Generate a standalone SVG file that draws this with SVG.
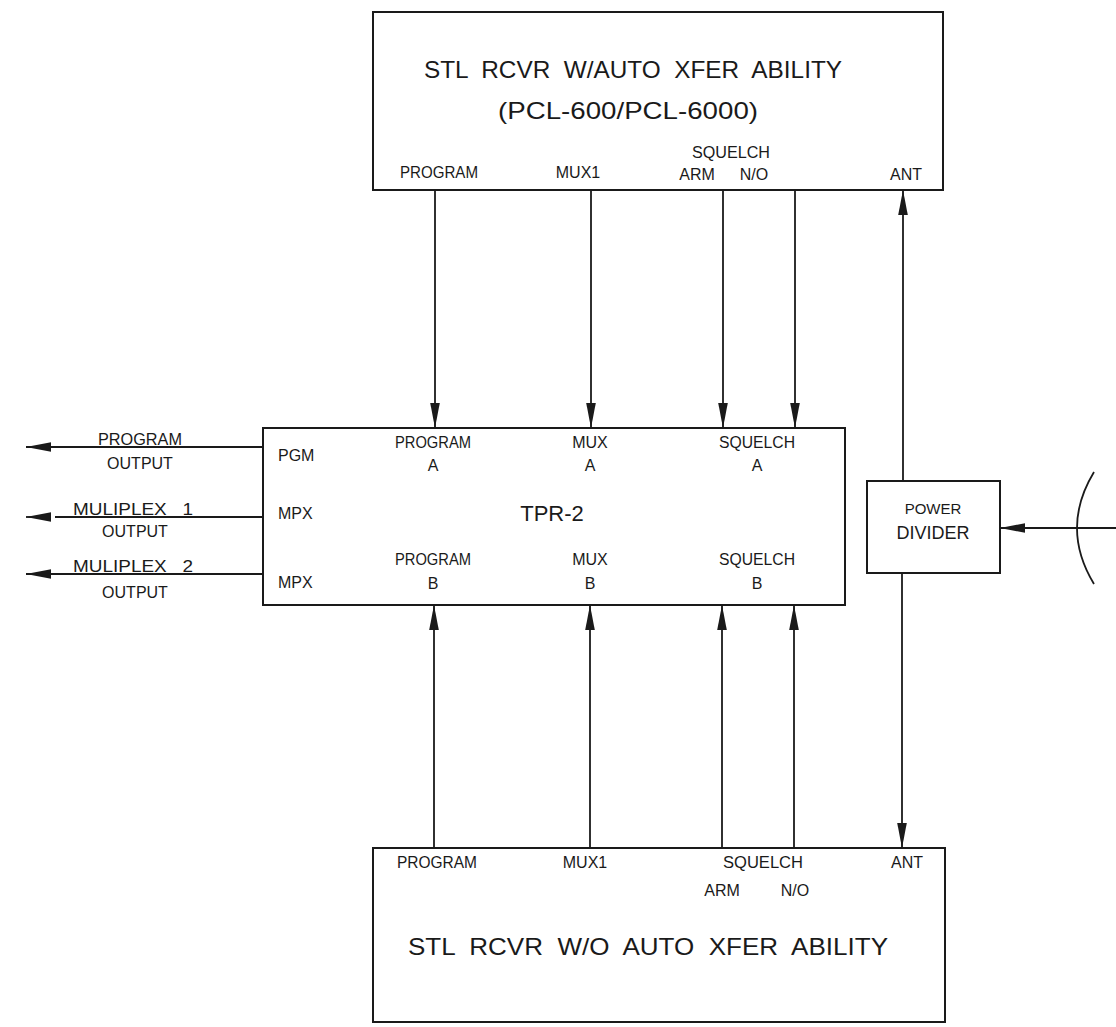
<svg xmlns="http://www.w3.org/2000/svg" width="1116" height="1027" viewBox="0 0 1116 1027">
<style>
.box{fill:none;stroke:#1a1a1a;stroke-width:2}
.ln{fill:none;stroke:#1a1a1a;stroke-width:1.8}
text{font-family:"Liberation Sans","DejaVu Sans",sans-serif;fill:#1a1a1a}
.lb{font-size:16px;text-anchor:middle}
.ll{font-size:16px}
.tt{font-size:24px;text-anchor:middle}
.pre{white-space:pre}
</style>
<defs>
<marker id="ah" markerUnits="userSpaceOnUse" markerWidth="26" markerHeight="12" viewBox="0 0 26 12" refX="25" refY="6" orient="auto">
<path d="M0,1.2 L25,6 L0,10.8 z" fill="#1a1a1a"/>
</marker>
</defs>
<rect width="1116" height="1027" fill="#ffffff"/>
<g id="top-rcvr">
<rect class="box" x="373" y="12" width="570" height="178"/>
<text class="tt pre" xml:space="preserve" x="633" y="78" textLength="418" lengthAdjust="spacingAndGlyphs">STL  RCVR  W/AUTO  XFER  ABILITY</text>
<text class="tt" x="628" y="119" textLength="260" lengthAdjust="spacingAndGlyphs">(PCL-600/PCL-6000)</text>
<text class="lb" x="439" y="178" textLength="78" lengthAdjust="spacingAndGlyphs">PROGRAM</text>
<text class="lb" x="578" y="178">MUX1</text>
<text class="lb" x="731" y="158" textLength="78" lengthAdjust="spacingAndGlyphs">SQUELCH</text>
<text class="lb" x="697" y="180">ARM</text>
<text class="lb" x="754" y="180">N/O</text>
<text class="lb" x="906" y="180">ANT</text>
</g>
<g id="tpr2">
<rect class="box" x="263" y="428" width="582" height="177"/>
<text class="ll" x="278" y="461">PGM</text>
<text class="ll" x="278" y="519">MPX</text>
<text class="ll" x="278" y="588">MPX</text>
<text class="lb" x="433" y="448" textLength="76" lengthAdjust="spacingAndGlyphs">PROGRAM</text>
<text class="lb" x="433" y="471">A</text>
<text class="lb" x="590" y="448">MUX</text>
<text class="lb" x="590" y="471">A</text>
<text class="lb" x="757" y="448" textLength="76" lengthAdjust="spacingAndGlyphs">SQUELCH</text>
<text class="lb" x="757" y="471">A</text>
<text x="552" y="521" font-size="22" text-anchor="middle">TPR-2</text>
<text class="lb" x="433" y="565" textLength="76" lengthAdjust="spacingAndGlyphs">PROGRAM</text>
<text class="lb" x="433" y="589">B</text>
<text class="lb" x="590" y="565">MUX</text>
<text class="lb" x="590" y="589">B</text>
<text class="lb" x="757" y="565" textLength="76" lengthAdjust="spacingAndGlyphs">SQUELCH</text>
<text class="lb" x="757" y="589">B</text>
</g>
<g id="power-divider">
<rect class="box" x="867" y="481" width="133" height="92"/>
<text x="933" y="514" font-size="15" text-anchor="middle">POWER</text>
<text x="933" y="539" font-size="18" text-anchor="middle">DIVIDER</text>
</g>
<g id="antenna">
<path class="ln" d="M1094,472 Q1060,528 1094,584"/>
</g>
<g id="bottom-rcvr">
<rect class="box" x="373" y="848" width="572" height="174"/>
<text class="lb" x="437" y="868" textLength="80" lengthAdjust="spacingAndGlyphs">PROGRAM</text>
<text class="lb" x="585" y="868">MUX1</text>
<text class="lb" x="763" y="868" textLength="80" lengthAdjust="spacingAndGlyphs">SQUELCH</text>
<text class="lb" x="907" y="868">ANT</text>
<text class="lb" x="722" y="896">ARM</text>
<text class="lb" x="795" y="896">N/O</text>
<text class="tt pre" xml:space="preserve" x="648" y="955" textLength="480" lengthAdjust="spacingAndGlyphs">STL  RCVR  W/O  AUTO  XFER  ABILITY</text>
</g>
<g id="output-labels">
<text class="lb" x="140" y="445" textLength="84" lengthAdjust="spacingAndGlyphs">PROGRAM</text>
<text class="lb" x="140" y="469">OUTPUT</text>
<text class="lb pre" xml:space="preserve" x="133" y="515" textLength="120" lengthAdjust="spacingAndGlyphs">MULIPLEX   1</text>
<text class="lb" x="135" y="537">OUTPUT</text>
<text class="lb pre" xml:space="preserve" x="133" y="572" textLength="120" lengthAdjust="spacingAndGlyphs">MULIPLEX   2</text>
<text class="lb" x="135" y="598">OUTPUT</text>
</g>
<g id="connectors">
<line class="ln" x1="435" y1="190" x2="435" y2="428" marker-end="url(#ah)"/>
<line class="ln" x1="591" y1="190" x2="591" y2="428" marker-end="url(#ah)"/>
<line class="ln" x1="723" y1="190" x2="723" y2="428" marker-end="url(#ah)"/>
<line class="ln" x1="795" y1="190" x2="795" y2="428" marker-end="url(#ah)"/>
<line class="ln" x1="434" y1="848" x2="434" y2="605" marker-end="url(#ah)"/>
<line class="ln" x1="590" y1="848" x2="590" y2="605" marker-end="url(#ah)"/>
<line class="ln" x1="722" y1="848" x2="722" y2="605" marker-end="url(#ah)"/>
<line class="ln" x1="794" y1="848" x2="794" y2="605" marker-end="url(#ah)"/>
<line class="ln" x1="903" y1="481" x2="903" y2="190" marker-end="url(#ah)"/>
<line class="ln" x1="902" y1="573" x2="902" y2="848" marker-end="url(#ah)"/>
<line class="ln" x1="1116" y1="528" x2="1000" y2="528" marker-end="url(#ah)"/>
<line class="ln" x1="263" y1="447" x2="26" y2="447" marker-end="url(#ah)"/>
<line class="ln" x1="263" y1="517" x2="55" y2="517"/>
<line class="ln" x1="48" y1="517" x2="26" y2="517" marker-end="url(#ah)"/>
<line class="ln" x1="263" y1="574" x2="26" y2="574" marker-end="url(#ah)"/>
</g>
</svg>
